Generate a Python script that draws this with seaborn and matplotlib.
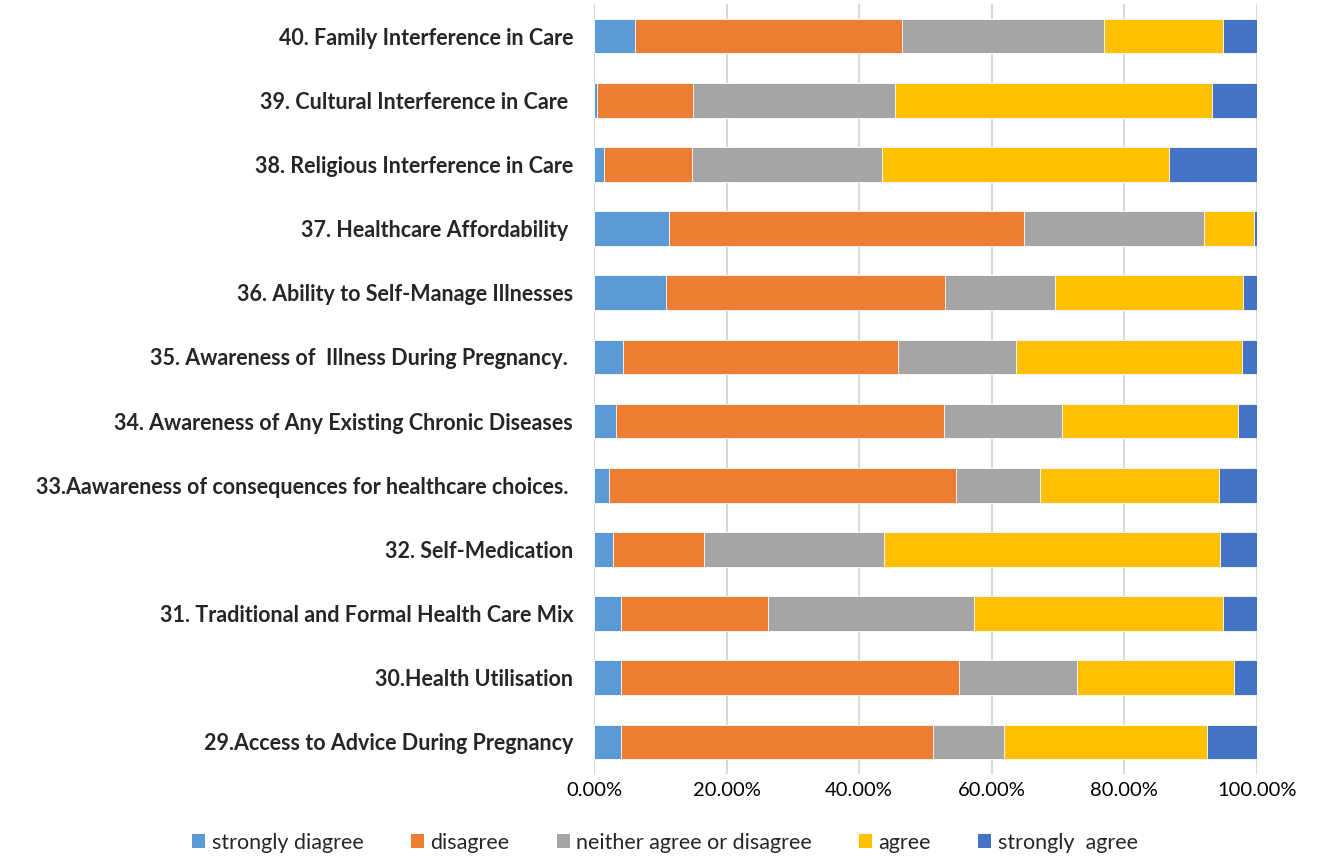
import matplotlib
matplotlib.use("Agg")
import matplotlib.pyplot as plt
import seaborn as sns
import pandas as pd
import numpy as np
from matplotlib.patches import Patch
from matplotlib.ticker import FuncFormatter

categories = [
    "40. Family Interference in Care",
    "39. Cultural Interference in Care ",
    "38. Religious Interference in Care",
    "37. Healthcare Affordability ",
    "36. Ability to Self-Manage Illnesses",
    "35. Awareness of  Illness During Pregnancy. ",
    "34. Awareness of Any Existing Chronic Diseases",
    "33.Aawareness of consequences for healthcare choices. ",
    "32. Self-Medication",
    "31. Traditional and Formal Health Care Mix",
    "30.Health Utilisation",
    "29.Access to Advice During Pregnancy",
]
series_names = ["strongly diagree", "disagree", "neither agree or disagree", "agree", "strongly  agree"]
strongly_disagree = [6.2, 0.5, 1.5, 11.3, 10.8, 4.4, 3.3, 2.2, 2.8, 4.0, 4.0, 4.0]
disagree          = [40.2, 14.4, 13.3, 53.6, 42.1, 41.5, 49.5, 52.4, 13.8, 22.3, 51.0, 47.1]
neither           = [30.5, 30.5, 28.7, 27.1, 16.7, 17.8, 17.8, 12.6, 27.1, 31.0, 17.8, 10.8]
agree             = [17.9, 47.8, 43.2, 7.5, 28.3, 34.0, 26.5, 27.1, 50.7, 37.5, 23.7, 30.6]
strongly_agree    = [5.2, 6.8, 13.3, 0.5, 2.1, 2.3, 2.9, 5.7, 5.6, 5.2, 3.5, 7.5]
colors = ["#5B9BD5", "#ED7D31", "#A5A5A5", "#FFC000", "#4472C4"]

df = pd.DataFrame({
    "category": categories,
    series_names[0]: strongly_disagree,
    series_names[1]: disagree,
    series_names[2]: neither,
    series_names[3]: agree,
    series_names[4]: strongly_agree,
})
vals = df[series_names].values
vals = vals / vals.sum(axis=1, keepdims=True)
cum = np.cumsum(vals, axis=1)

sns.set_style("white")
plt.rcParams["font.family"] = ["Lato", "DejaVu Sans"]

fig = plt.figure(figsize=(13.17, 8.59), dpi=100)
ax = fig.add_axes([594/1317, 1 - 774/859, (1257-594)/1317, (774-4)/859])

for i in range(len(series_names) - 1, -1, -1):
    d = pd.DataFrame({"category": categories, "value": cum[:, i]})
    sns.barplot(data=d, x="value", y="category", orient="h", color=colors[i],
                width=0.54, edgecolor="white", linewidth=0.6, ax=ax, zorder=3,
                saturation=1)

ax.set_xlim(0, 1.0)
ax.set_xticks(np.linspace(0, 1, 6))
ax.xaxis.set_major_formatter(FuncFormatter(lambda v, p: f"{v*100:.2f}%"))
ax.grid(axis="x", color="#D9D9D9", linewidth=1.5, zorder=0)
ax.grid(axis="y", visible=False)
for s in ax.spines.values():
    s.set_visible(False)
ax.set_xlabel("")
ax.set_ylabel("")
ax.tick_params(axis="x", labelsize=14.5, colors="#000000", pad=6, length=0)
ax.tick_params(axis="y", labelsize=15.5, pad=15, length=0)
for lbl in ax.get_yticklabels():
    lbl.set_fontweight("bold")
ax.set_axisbelow(True)

handles = [Patch(facecolor=c, edgecolor="none") for c in colors]
fig.legend(handles, series_names, loc="center", bbox_to_anchor=(0.505, 0.019),
           ncol=5, frameon=False, fontsize=15.5, handlelength=0.6, handleheight=0.6,
           handletextpad=0.3, columnspacing=2.2)

fig.savefig("out.png", dpi=100)
